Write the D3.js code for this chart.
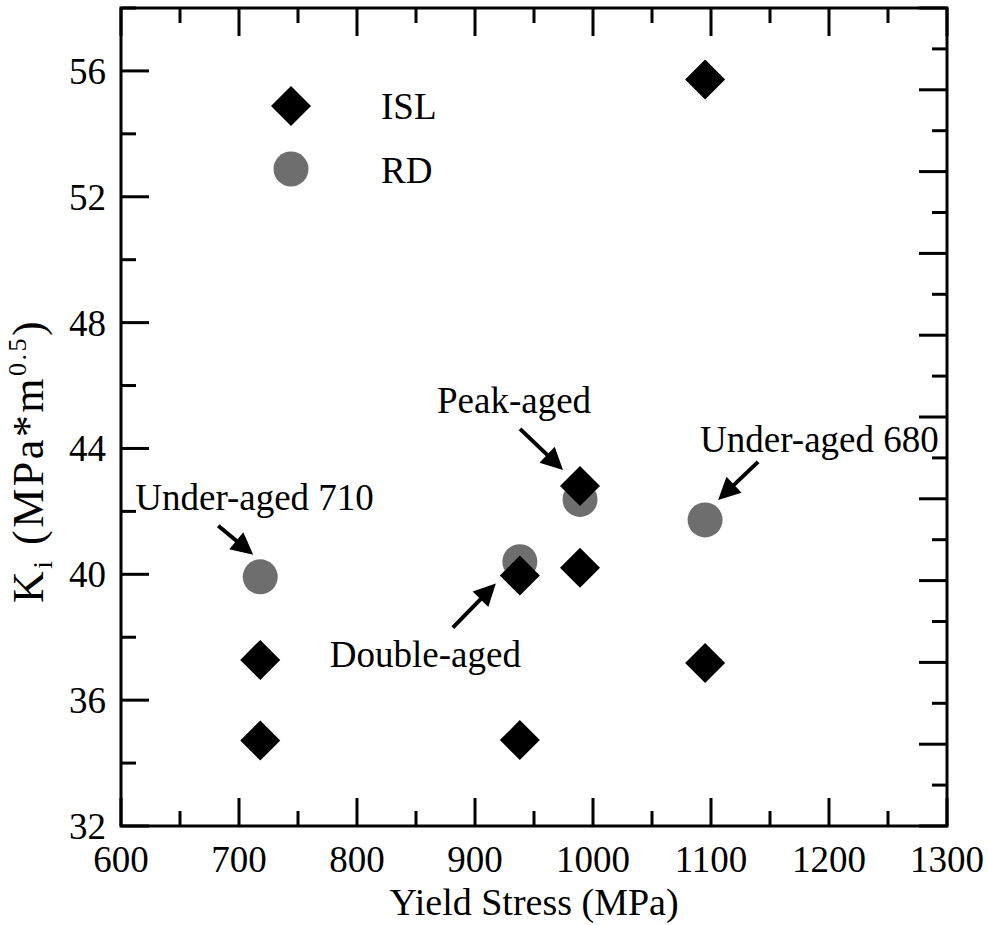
<!DOCTYPE html>
<html>
<head>
<meta charset="utf-8">
<script src="https://cdn.jsdelivr.net/npm/d3@7/dist/d3.min.js"></script>
<style>
  html, body { margin: 0; padding: 0; background: #fff; }
</style>
</head>
<body>
<svg id="chart" width="988" height="925"></svg>
<script>
// ---- data ----
const islYield = [718, 718, 938, 938, 989, 989, 1095, 1095];
const islK     = [34.72, 37.28, 34.73, 39.96, 40.21, 42.81, 55.73, 37.18];
const rdYield  = [718, 938, 989, 1095];
const rdK      = [39.92, 40.40, 42.38, 41.73];
const xTicks   = [600, 700, 800, 900, 1000, 1100, 1200, 1300];
const yTicks   = [32, 36, 40, 44, 48, 52, 56];
const legendLabels = ["ISL", "RD"];
const annotLabels  = ["Under-aged 710", "Peak-aged", "Double-aged", "Under-aged 680"];
const annotX       = [718, 989, 938, 1095];
const annotY       = [39.92, 42.81, 39.96, 41.73];

// ---- layout ----
const W = 988, H = 925;
const m = {left: 121, right: 41, top: 8, bottom: 99};
const FONT = "Liberation Serif";
const svg = d3.select("#chart");
const x = d3.scaleLinear().domain([600, 1300]).range([m.left, W - m.right]);
const y = d3.scaleLinear().domain([32, 58]).range([H - m.bottom, m.top]);
const yR = d3.scaleLinear().domain([0, 10]).range([H - m.bottom, m.top]);

const axisColor = "#000", sw = 3, majL = 28, minL = 15, fs = 37;

const xMinor = d3.range(650, 1300, 100);
const yMinor = d3.range(34, 58.01, 4);
const yRMinor = d3.range(0.5, 10, 1);
const yRMajor = d3.range(0, 10.01, 1);

function tickLines(sel, data, f) {
  sel.append("g").selectAll("line").data(data).join("line")
    .each(function(d){ const c = f(d); d3.select(this).attr("x1",c[0]).attr("y1",c[1]).attr("x2",c[2]).attr("y2",c[3]); })
    .attr("stroke", axisColor).attr("stroke-width", sw);
}
const g = svg.append("g");
const x0 = m.left, x1 = W - m.right, y0 = H - m.bottom, y1 = m.top;
tickLines(g, xTicks, d => [x(d), y0, x(d), y0 - majL]);
tickLines(g, xMinor, d => [x(d), y0, x(d), y0 - minL]);
tickLines(g, xTicks, d => [x(d), y1, x(d), y1 + majL]);
tickLines(g, xMinor, d => [x(d), y1, x(d), y1 + minL]);
tickLines(g, yTicks, d => [x0, y(d), x0 + majL, y(d)]);
tickLines(g, yMinor, d => [x0, y(d), x0 + minL, y(d)]);
tickLines(g, yRMajor, d => [x1, yR(d), x1 - majL, yR(d)]);
tickLines(g, yRMinor, d => [x1, yR(d), x1 - minL, yR(d)]);
g.append("rect").attr("x", x0).attr("y", y1).attr("width", x1 - x0).attr("height", y0 - y1)
  .attr("fill", "none").attr("stroke", axisColor).attr("stroke-width", sw);

g.append("g").selectAll("text").data(xTicks).join("text")
  .attr("font-family", FONT)
  .attr("x", d => x(d)).attr("y", y0 + 46).attr("text-anchor", "middle")
  .attr("font-size", fs).text(d => d);
g.append("g").selectAll("text").data(yTicks).join("text")
  .attr("font-family", FONT)
  .attr("x", x0 - 15).attr("y", d => y(d)).attr("dy", "0.35em").attr("text-anchor", "end")
  .attr("font-size", fs).text(d => d);

svg.append("text").attr("font-family", FONT)
  .attr("x", (x0 + x1) / 2).attr("y", 915).attr("text-anchor", "middle")
  .attr("font-size", 38).text("Yield Stress (MPa)");
const yt = svg.append("text").attr("font-family", FONT)
  .attr("transform", "translate(43,603) rotate(-90)")
  .attr("font-size", 44).attr("letter-spacing", 2.5);
yt.append("tspan").text("K");
yt.append("tspan").attr("font-size", 28).attr("dy", 9).text("i");
yt.append("tspan").attr("dy", -9).text(" (MPa*m");
yt.append("tspan").attr("font-size", 26).attr("dy", -17).text("0.5");
yt.append("tspan").attr("dy", 17).text(")");

const grey = "#6e6e6e";
const circSym = d3.symbol().type(d3.symbolCircle).size(Math.PI * 17.5 * 17.5);
const diaSym = d3.symbol().type(d3.symbolSquare).size(800);

svg.append("g").selectAll("path").data(rdYield.map((v, i) => [v, rdK[i]])).join("path")
  .attr("d", circSym).attr("fill", grey)
  .attr("transform", d => `translate(${x(d[0])},${y(d[1])})`);
svg.append("g").selectAll("path").data(islYield.map((v, i) => [v, islK[i]])).join("path")
  .attr("d", diaSym).attr("fill", "#000")
  .attr("transform", d => `translate(${x(d[0])},${y(d[1])}) rotate(45)`);

const lg = svg.append("g");
lg.append("path").attr("d", diaSym).attr("fill", "#000").attr("transform", "translate(291,106) rotate(45)");
lg.append("path").attr("d", circSym).attr("fill", grey).attr("transform", "translate(291,169)");
lg.selectAll("text").data(legendLabels).join("text")
  .attr("font-family", FONT)
  .attr("x", 381).attr("y", (d, i) => 119 + i * 64).attr("font-size", fs).text(d => d);

const annotOff = [
  {tx: -125, ty: -67, ax: -42, ay: -51, bx: -7, by: -22},
  {tx: -143, ty: -73, ax: -60, ay: -57, bx: -17, by: -16},
  {tx: -190, ty: 91,  ax: -67, ay: 52,  bx: -24, by: 8},
  {tx: -5,   ty: -68, ax: 53,  ay: -58, bx: 13,  by: -20}
];
const ag = svg.append("g");
annotLabels.forEach((lab, i) => {
  const px = x(annotX[i]), py = y(annotY[i]), o = annotOff[i];
  ag.append("text").attr("font-family", FONT)
    .attr("x", px + o.tx).attr("y", py + o.ty).attr("font-size", fs).text(lab);
  const sx = px + o.ax, sy = py + o.ay, ex = px + o.bx, ey = py + o.by;
  const dx = ex - sx, dy = ey - sy, len = Math.hypot(dx, dy), ux = dx / len, uy = dy / len;
  const hl = 22, hw = 11;
  const bx = ex - ux * hl, by = ey - uy * hl;
  ag.append("line").attr("x1", sx).attr("y1", sy).attr("x2", bx + ux * 2).attr("y2", by + uy * 2)
    .attr("stroke", "#000").attr("stroke-width", 4);
  ag.append("path").attr("d", `M${ex},${ey}L${bx - uy * hw},${by + ux * hw}L${bx + uy * hw},${by - ux * hw}Z`)
    .attr("fill", "#000");
});
</script>
</body>
</html>
